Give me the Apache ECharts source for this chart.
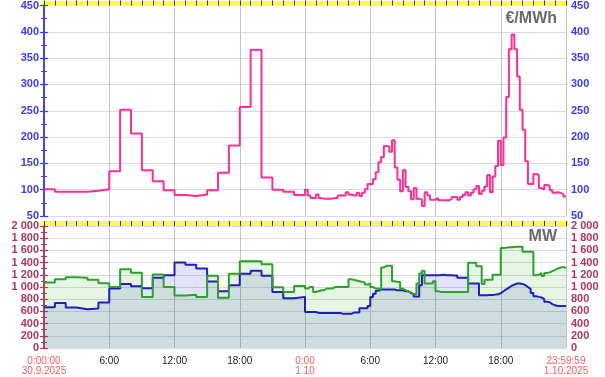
<!DOCTYPE html>
<html>
<head>
<meta charset="utf-8">
<script src="https://cdn.jsdelivr.net/npm/echarts@6/dist/echarts.min.js"></script>
<style>
html,body{margin:0;padding:0;background:#fff;}
#chart{width:605px;height:377px;}
</style>
</head>
<body>
<div id="chart"></div>
<script>
// ---- data ----
// price €/MWh, 30.9.2025 hourly (24), 1.10.2025 quarter-hourly (96)
var priceDay1 = [101,96,96,96,98,101,135,252,207,137,116,99,90,88,91,99,132,184,257,366,123,100,96,90];
var priceDay2 = [100,89,84,84,91,84,83,83,83,83,84,84,89,89,89,95,91,89,89,94,88,94,101,111,
                 111,120,133,152,162,183,182,172,194,142,119,97,137,105,97,82,103,83,81,69,95,89,81,81,
                 84,80,80,80,80,82,86,86,81,86,90,95,89,94,101,107,92,98,106,128,95,125,145,193,
                 147,199,276,367,395,367,315,252,214,154,111,111,130,128,103,100,109,107,99,94,95,94,92,87];
// MW (green series)
var greenDay1 = [1073,1128,1161,1150,1117,1062,1002,1292,1232,838,1205,1002,860,871,838,1183,822,1216,1424,1424,1375,997,920,1018];
var greenDay2 = [975,1002,1002,920,931,947,947,975,975,975,997,1002,1002,1002,1002,1002,1128,1117,1106,1095,1084,1073,1040,1057,
                 1002,975,975,964,1320,1347,1347,1347,1095,1084,1084,975,947,931,909,885,880,1058,1222,1265,1058,1058,1058,1095,
                 930,920,920,920,920,920,920,920,920,920,920,920,1397,1397,1397,1342,1342,1050,1120,1120,1120,1200,1200,1200,
                 1640,1645,1650,1650,1655,1660,1660,1660,1577,1577,1577,1577,1194,1200,1230,1180,1230,1240,1260,1280,1300,1320,1330,1310];
// MW (blue series)
var blueDay1 = [668,739,663,635,646,745,975,1051,1013,980,1150,1194,1402,1364,1303,1090,931,1029,1216,1265,1183,920,816,838];
var blueDay2 = [591,591,591,591,575,575,575,575,575,575,575,575,575,560,560,560,560,580,580,580,650,650,650,690,
                838,890,940,958,958,958,958,958,958,945,945,945,930,930,900,880,845,840,1030,1194,1194,1194,1194,1194,
                1194,1194,1200,1194,1194,1194,1190,1190,1150,1150,1150,1150,1057,1057,1057,1057,866,866,866,870,870,875,880,900,
                930,960,990,1020,1040,1057,1057,1050,1030,1000,970,900,850,838,830,800,760,750,720,700,690,690,690,690];
// x tick labels every 6 hours (0..48)
var xTickLabels = ['0:00:00\n30.9.2025','6:00','12:00','18:00','0:00\n1.10','6:00','12:00','18:00','23:59:59\n1.10.2025'];
var xTickRed = [true,false,false,false,true,false,false,false,true];
var priceUnit = '€/MWh';
var powerUnit = 'MW';

// build step series in hours (day1 hourly, day2 quarter-hourly)
function build(d1, d2){
  var out = [];
  for (var i=0;i<d1.length;i++) out.push([i, d1[i]]);
  for (var j=0;j<d2.length;j++) out.push([24 + j/4, d2[j]]);
  out.push([48, d2[d2.length-1]]);
  return out;
}

var FONT = 'Liberation Sans, Arial, sans-serif';
var BLUE_AX = '#3a3aff';
var RED_AX = '#b0365f';

function fmtK(v){
  if (v >= 1000) { var r = v % 1000; return Math.floor(v/1000) + ' ' + (r<10?'00':r<100?'0':'') + r; }
  return String(v);
}

function xAxesFor(gridIndex, withLabels){
  return [
    { // main: 6h grid lines (+labels)
      type:'value', gridIndex:gridIndex, min:0, max:48, interval:6,
      axisLine:{show:false, onZero:false}, axisTick:{show:false},
      splitLine:{show:true, lineStyle:{color:'#c4c4c4', width:1}},
      axisLabel: withLabels ? {
        show:true, margin:8, fontFamily:FONT, fontSize:10, lineHeight:10, color:'#222',
        showMinLabel:true, showMaxLabel:true,
        formatter:function(v){
          var k = Math.round(v/6);
          var t = xTickLabels[k];
          if (xTickRed[k]) return t.split('\n').map(function(s){return '{r|'+s+'}';}).join('\n');
          return t;
        },
        rich:{ r:{color:'#ff5a5a', fontFamily:FONT, fontSize:10, lineHeight:10} }
      } : {show:false}
    },
    { // yellow band
      type:'value', gridIndex:gridIndex, min:0, max:48, interval:1, offset:2.5,
      axisLine:{show:true, onZero:false, lineStyle:{color:'#ffff3c', width:5}},
      axisTick:{show:false}, axisLabel:{show:false}, splitLine:{show:false}
    },
    { // hourly ticks
      type:'value', gridIndex:gridIndex, min:0, max:48, interval:1,
      axisLine:{show:false, onZero:false},
      axisTick:{show:true, length:5, lineStyle:{color:'#333', width:1}},
      axisLabel:{show:false}, splitLine:{show:false}
    }
  ];
}

function yAxis(gridIndex, pos, min, max, interval, color, fmt, split){
  return {
    type:'value', gridIndex:gridIndex, position:pos, min:min, max:max, interval:interval,
    axisLine:{show:true, lineStyle:{color:color, width:1.5}},
    axisTick:{show:true, length:4, lineStyle:{color:color, width:1.2}},
    minorTick:{show:true, splitNumber:2, length:3, lineStyle:{color:color, width:1}},
    axisLabel:{show:true, margin:5, color:color, fontFamily:FONT, fontSize:11, fontWeight:'bold', formatter:fmt},
    splitLine:{show:split, lineStyle:{color:'#dadada', width:1}}
  };
}

var chart = echarts.init(document.getElementById('chart'), null, {renderer:'canvas'});
chart.setOption({
  animation:false,
  backgroundColor:'#fff',
  title:[
    {text:priceUnit, right:43, top:6, textStyle:{color:'#6a6a6a', fontSize:16, fontWeight:'bold', fontFamily:FONT}},
    {text:powerUnit, right:43, top:224, textStyle:{color:'#6a6a6a', fontSize:16, fontWeight:'bold', fontFamily:FONT}}
  ],
  grid:[
    {left:44, right:39, top:5, height:211},
    {left:44, right:39, top:226, height:122}
  ],
  xAxis: xAxesFor(0,false).concat(xAxesFor(1,true)),
  yAxis:[
    yAxis(0,'left',50,450,50,BLUE_AX,function(v){return String(v);},true),
    yAxis(0,'right',50,450,50,BLUE_AX,function(v){return String(v);},false),
    yAxis(1,'left',0,2000,200,RED_AX,fmtK,true),
    yAxis(1,'right',0,2000,200,RED_AX,fmtK,false)
  ],
  series:[
    {
      type:'line', xAxisIndex:0, yAxisIndex:0, step:'end', symbol:'none',
      data: build(priceDay1, priceDay2),
      lineStyle:{color:'#ff2d95', width:2}
    },
    {
      type:'line', xAxisIndex:3, yAxisIndex:2, step:'end', symbol:'none',
      data: build(blueDay1, blueDay2),
      lineStyle:{color:'#1f1fbf', width:2},
      areaStyle:{color:'rgba(20,20,200,0.17)', origin:'start'}
    },
    {
      type:'line', xAxisIndex:3, yAxisIndex:2, step:'end', symbol:'none',
      data: build(greenDay1, greenDay2),
      lineStyle:{color:'#2aa32a', width:2},
      areaStyle:{color:'rgba(60,180,40,0.18)', origin:'start'}
    }
  ]
});
</script>
</body>
</html>
